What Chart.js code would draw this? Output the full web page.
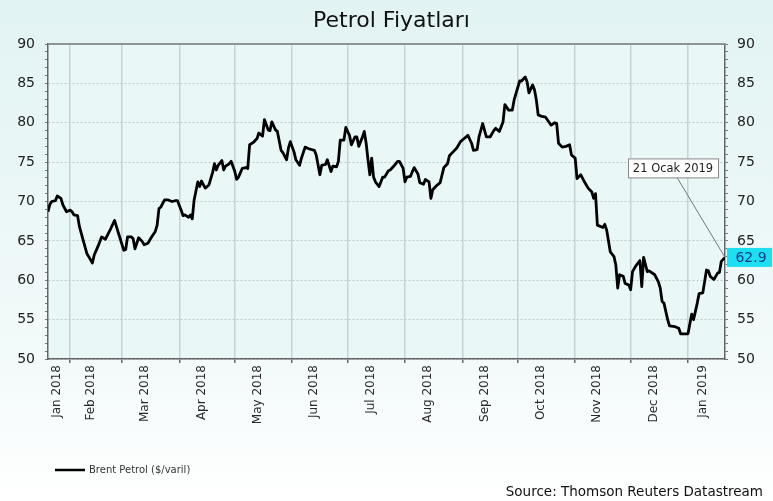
<!DOCTYPE html>
<html>
<head>
<meta charset="utf-8">
<title>Petrol Fiyatları</title>
<script src="https://cdn.jsdelivr.net/npm/chart.js@4.4.1/dist/chart.umd.min.js"></script>
<style>
  html, body { margin: 0; padding: 0; background: #fff; }
  canvas { display: block; }
</style>
</head>
<body>
<canvas id="petrolChart" width="773" height="501"></canvas>
<script>
// Brent petrol ($/varil) - gün: 1 Ocak 2018'den itibaren gün sayısı
const days = [
  19, 20, 21, 23, 24, 26, 27, 29, 31, 32, 33, 35, 36, 38, 40, 41, 43, 44, 46, 48,
  50, 53, 55, 56, 58, 60, 61, 62, 64, 65, 66, 68, 70, 71, 73, 75, 77, 78, 79, 80,
  82, 84, 86, 88, 89, 91, 92, 93, 95, 96, 97, 98, 100, 101, 102, 104, 106, 108, 109, 110,
  111, 113, 114, 115, 117, 118, 120, 121, 122, 124, 126, 127, 128, 130, 132, 133, 135, 136, 138, 139,
  140, 142, 143, 145, 146, 148, 149, 150, 152, 153, 155, 156, 158, 160, 163, 164, 166, 167, 169, 170,
  172, 173, 175, 176, 177, 179, 180, 182, 183, 185, 186, 187, 189, 190, 191, 192, 193, 194, 195, 196,
  198, 200, 201, 203, 204, 206, 208, 209, 211, 212, 213, 215, 216, 217, 219, 220, 222, 223, 225, 226,
  227, 229, 231, 233, 235, 236, 238, 240, 242, 244, 246, 248, 249, 251, 252, 254, 256, 258, 260, 261,
  263, 265, 266, 268, 270, 271, 274, 275, 277, 278, 279, 281, 282, 283, 284, 286, 288, 291, 293, 294,
  295, 297, 299, 301, 302, 304, 305, 307, 309, 311, 313, 314, 315, 316, 319, 320, 321, 323, 325, 326,
  327, 328, 330, 331, 333, 334, 335, 337, 339, 340, 341, 343, 344, 347, 349, 350, 351, 352, 354, 355,
  358, 360, 361, 365, 367, 368, 370, 371, 373, 375, 376, 377, 379, 381, 382, 383, 385
];
const prices = [
  68.7, 69.6, 70.0, 70.1, 70.7, 70.4, 69.6, 68.7, 68.9, 68.7, 68.3, 68.2, 66.8, 65.1, 63.4, 63.0, 62.2, 63.2, 64.3, 65.5,
  65.2, 66.6, 67.6, 66.8, 65.3, 63.8, 63.9, 65.5, 65.5, 65.3, 64.0, 65.4, 64.9, 64.5, 64.7, 65.5, 66.2, 67.0, 69.1, 69.3,
  70.2, 70.2, 70.0, 70.1, 70.1, 68.9, 68.2, 68.3, 68.0, 68.3, 67.8, 70.2, 72.5, 71.9, 72.6, 71.7, 72.1, 73.7, 74.8, 74.0,
  74.6, 75.2, 74.0, 74.5, 74.8, 75.1, 73.8, 72.8, 73.1, 74.2, 74.3, 74.2, 77.2, 77.5, 78.0, 78.7, 78.3, 80.4, 79.1, 79.0,
  80.1, 79.1, 78.9, 76.5, 76.2, 75.3, 76.8, 77.6, 76.3, 75.3, 74.6, 75.5, 76.9, 76.7, 76.5, 75.9, 73.4, 74.6, 74.7, 75.3,
  73.8, 74.5, 74.4, 75.1, 77.8, 77.8, 79.4, 78.4, 77.2, 78.2, 78.2, 77.0, 78.2, 78.9, 77.4, 75.3, 73.4, 75.5, 73.1, 72.5,
  71.9, 73.1, 73.1, 73.9, 74.0, 74.5, 75.1, 75.1, 74.2, 72.5, 73.1, 73.2, 73.8, 74.3, 73.5, 72.4, 72.2, 72.8, 72.5, 70.4,
  71.5, 72.0, 72.4, 74.3, 74.8, 75.8, 76.3, 76.8, 77.6, 78.0, 78.4, 77.4, 76.5, 76.6, 78.2, 79.9, 78.2, 78.2, 79.0, 79.3,
  78.9, 80.1, 82.3, 81.6, 81.6, 82.9, 85.3, 85.3, 85.8, 85.2, 83.8, 84.8, 84.2, 82.9, 81.0, 80.8, 80.7, 79.7, 80.0, 79.9,
  77.4, 76.9, 77.0, 77.2, 75.9, 75.5, 72.9, 73.4, 72.5, 71.7, 71.2, 70.4, 71.0, 67.0, 66.7, 67.1, 66.4, 63.6, 63.0, 61.9,
  59.0, 60.7, 60.5, 59.6, 59.4, 58.8, 61.1, 61.9, 62.5, 59.2, 62.9, 61.1, 61.2, 60.7, 59.8, 59.0, 57.3, 57.1, 55.0, 54.2,
  54.1, 53.9, 53.2, 53.2, 55.7, 55.0, 57.1, 58.3, 58.4, 61.3, 61.2, 60.5, 60.1, 60.9, 61.0, 62.4, 62.9
];
const monthLabels = [
  'Jan 2018', 'Feb 2018', 'Mar 2018', 'Apr 2018', 'May 2018', 'Jun 2018', 'Jul 2018',
  'Aug 2018', 'Sep 2018', 'Oct 2018', 'Nov 2018', 'Dec 2018', 'Jan 2019'
];
const yTicks = [50, 55, 60, 65, 70, 75, 80, 85, 90];

const chartTitle = 'Petrol Fiyatları';
const seriesName = 'Brent Petrol ($/varil)';
const sourceText = 'Source: Thomson Reuters Datastream';
const calloutText = '21 Ocak 2019';

const FONT = 'DejaVu Sans';
const xMin = days[0];
const xMax = days[days.length - 1];
const yMin = yTicks[0];
const yMax = yTicks[yTicks.length - 1];

// ay başları (gridline) ve ay etiket konumları
const DAY = 86400000;
const base = Date.UTC(2018, 0, 1);
const monthStarts = [];
const labelAt = new Map();
monthLabels.forEach(function (lbl, i) {
  const start = (Date.UTC(2018, i, 1) - base) / DAY;
  const end = (Date.UTC(2018, i + 1, 1) - base) / DAY;
  if (start > xMin && start < xMax) monthStarts.push(start);
  const vs = Math.max(start, xMin), ve = Math.min(end, xMax);
  labelAt.set(vs + 0.4 * (ve - vs), lbl);
});
const monthStartSet = new Set(monthStarts);
const xTickValues = monthStarts.concat(Array.from(labelAt.keys())).sort(function (a, b) { return a - b; });

// küçük tikler her 1 birimde
const yMinor = [];
for (let v = yMin; v <= yMax; v++) yMinor.push(v);

const decor = {
  id: 'decor',
  beforeDraw(chart) {
    const { ctx, chartArea: a, width, height } = chart;
    ctx.save();
    const g = ctx.createLinearGradient(0, 0, 0, height);
    g.addColorStop(0, '#e2f3f3');
    g.addColorStop(0.72, '#f3fafa');
    g.addColorStop(1, '#ffffff');
    ctx.fillStyle = g;
    ctx.fillRect(0, 0, width, height);
    ctx.fillStyle = '#eaf7f7';
    ctx.fillRect(a.left, a.top, a.right - a.left, a.bottom - a.top);
    ctx.restore();
  },
  afterDraw(chart) {
    const { ctx, chartArea: a, width, height } = chart;
    const xs = chart.scales.x, ys = chart.scales.y;
    ctx.save();

    // üst çerçeve
    ctx.strokeStyle = '#8c9494';
    ctx.lineWidth = 2;
    ctx.beginPath();
    ctx.moveTo(a.left, a.top);
    ctx.lineTo(a.right, a.top);
    ctx.stroke();

    // başlık
    ctx.fillStyle = '#111';
    ctx.font = '22px "' + FONT + '"';
    ctx.textAlign = 'center';
    ctx.textBaseline = 'middle';
    ctx.fillText(chartTitle, width / 2 + 5, 21);

    // son değer notu
    const n = days.length - 1;
    const px = xs.getPixelForValue(days[n]);
    const py = ys.getPixelForValue(prices[n]);
    const bx = px - 97, by = py - 99, bw = 90, bh = 19;
    ctx.strokeStyle = '#777';
    ctx.lineWidth = 1;
    ctx.beginPath();
    ctx.moveTo(bx + 49, by + bh);
    ctx.lineTo(px, py);
    ctx.stroke();
    ctx.fillStyle = '#ffffff';
    ctx.fillRect(bx, by, bw, bh);
    ctx.strokeStyle = '#888';
    ctx.strokeRect(bx + 0.5, by + 0.5, bw, bh);
    ctx.fillStyle = '#222';
    ctx.font = '11.5px "' + FONT + '"';
    ctx.fillText(calloutText, bx + bw / 2, by + bh / 2 + 1);

    // sağ eksende değer etiketi
    ctx.fillStyle = '#1ce0f2';
    ctx.fillRect(a.right + 2, py - 9.5, 45, 19);
    ctx.fillStyle = '#0b3b8c';
    ctx.font = '14px "' + FONT + '"';
    ctx.fillText(prices[n].toFixed(1), a.right + 26, py + 0.5);

    // gösterge
    ctx.strokeStyle = '#000';
    ctx.lineWidth = 2.5;
    ctx.beginPath();
    ctx.moveTo(55, 470);
    ctx.lineTo(85, 470);
    ctx.stroke();
    ctx.fillStyle = '#333';
    ctx.font = '10px "' + FONT + '"';
    ctx.textAlign = 'left';
    ctx.fillText(seriesName, 89, 470);

    // kaynak
    ctx.fillStyle = '#111';
    ctx.font = '13.5px "' + FONT + '"';
    ctx.textAlign = 'right';
    ctx.fillText(sourceText, 763, 492);

    ctx.restore();
  }
};

const transparent = 'rgba(0,0,0,0)';

new Chart(document.getElementById('petrolChart'), {
  type: 'line',
  data: {
    datasets: [{
      label: seriesName,
      data: days.map(function (d, i) { return { x: d, y: prices[i] }; }),
      borderColor: '#000',
      borderWidth: 2.8,
      borderJoinStyle: 'round',
      pointRadius: 0,
      tension: 0,
      fill: false,
      xAxisID: 'x',
      yAxisID: 'y'
    }]
  },
  options: {
    responsive: false,
    animation: false,
    events: [],
    layout: { padding: { top: 44, left: 0, right: 0, bottom: 0 } },
    plugins: {
      legend: { display: false },
      title: { display: false },
      tooltip: { enabled: false }
    },
    scales: {
      x: {
        type: 'linear',
        min: xMin,
        max: xMax,
        afterBuildTicks: function (scale) {
          scale.ticks = xTickValues.map(function (v) { return { value: v }; });
        },
        afterFit: function (scale) { scale.height = 142; },
        ticks: {
          autoSkip: false,
          minRotation: 90,
          maxRotation: 90,
          padding: 2,
          color: '#2a2a2a',
          font: { family: FONT, size: 12 },
          callback: function (v) { return labelAt.get(v) || ''; }
        },
        grid: {
          color: function (c) { return c.tick && monthStartSet.has(c.tick.value) ? '#c5d3d6' : transparent; },
          lineWidth: 1.5,
          tickLength: 4,
          tickColor: function (c) { return c.tick && monthStartSet.has(c.tick.value) ? '#666' : transparent; }
        },
        border: { color: '#666', width: 1.5 }
      },
      y: {
        position: 'left',
        min: yMin,
        max: yMax,
        afterBuildTicks: function (scale) {
          scale.ticks = yMinor.map(function (v) { return { value: v }; });
        },
        afterFit: function (scale) { scale.width = 48; },
        ticks: {
          autoSkip: false,
          padding: 10,
          color: '#222',
          font: { family: FONT, size: 14 },
          callback: function (v) { return yTicks.includes(v) ? String(v) : ''; }
        },
        grid: {
          color: function (c) { return c.tick && yTicks.includes(c.tick.value) ? '#bfcaca' : transparent; },
          lineWidth: 1,
          tickLength: 3,
          tickColor: '#777'
        },
        border: { color: '#666', width: 1.5, dash: [2, 2] }
      },
      y2: {
        position: 'right',
        min: yMin,
        max: yMax,
        afterBuildTicks: function (scale) {
          scale.ticks = yMinor.map(function (v) { return { value: v }; });
        },
        afterFit: function (scale) { scale.width = 48; },
        ticks: {
          autoSkip: false,
          padding: 9,
          color: '#222',
          font: { family: FONT, size: 14 },
          callback: function (v) { return yTicks.includes(v) ? String(v) : ''; }
        },
        grid: {
          drawOnChartArea: false,
          tickLength: 3,
          tickColor: '#777'
        },
        border: { color: '#666', width: 1.5 }
      }
    }
  },
  plugins: [decor]
});
</script>
</body>
</html>
